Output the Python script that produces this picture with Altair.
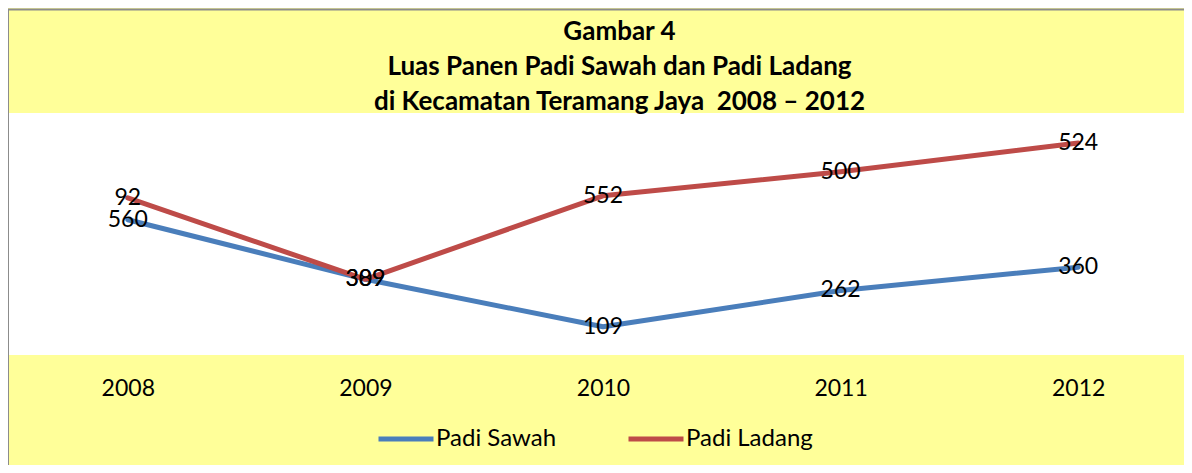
import altair as alt
import pandas as pd

years = ["2008", "2009", "2010", "2011", "2012"]
sawah = [560, 309, 109, 262, 360]
ladang = [92, 0, 552, 500, 524]          # stacked on top of Padi Sawah
sawah_labels = ["560", "309", "109", "262", "360"]
ladang_labels = ["92", "389", "552", "500", "524"]
series = ["Padi Sawah", "Padi Ladang"]
colors = ["#4A7EBB", "#BE4B48"]
title_lines = ["Gambar 4",
               "Luas Panen Padi Sawah dan Padi Ladang",
               "di Kecamatan Teramang Jaya \u00a02008 \u2013 2012"]

rows = []
for i, yr in enumerate(years):
    rows.append(dict(year=yr, series=series[0], value=sawah[i], label=sawah_labels[i], order=0))
    rows.append(dict(year=yr, series=series[1], value=ladang[i], label=ladang_labels[i], order=1))
df = pd.DataFrame(rows)

FONT = "Lato"

x = alt.X("year:O",
          scale=alt.Scale(type="point", range=[0, 1188], padding=0.5),
          axis=alt.Axis(title=None, labelAngle=0, domain=False, ticks=False,
                        grid=False, labelFontSize=23, labelFont=FONT,
                        labelColor="black", labelPadding=33,
                        labelBaseline="middle"))
y = alt.Y("y1:Q", scale=alt.Scale(domain=[-10, 1010], nice=False, zero=False),
          axis=None)

base = alt.Chart(df).transform_stack(
    stack="value", groupby=["year"], as_=["y0", "y1"],
    sort=[alt.SortField("order", order="ascending")]
)

lines = base.mark_line(strokeWidth=5, strokeCap="round", strokeJoin="round").encode(
    x=x, y=y,
    color=alt.Color("series:N",
                    scale=alt.Scale(domain=series, range=colors),
                    legend=alt.Legend(title=None, orient="none", direction="horizontal",
                                      columns=2, legendX=367, legendY=296,
                                      symbolType="stroke", symbolSize=3025,
                                      symbolStrokeWidth=5, labelFontSize=24,
                                      labelFont=FONT, labelColor="black",
                                      labelOffset=0, columnPadding=61,
                                      padding=0)),
    detail="series:N",
)

labels = base.mark_text(fontSize=23, font=FONT, color="black",
                        align="center", baseline="middle").encode(
    x=x, y=y, text="label:N"
)

border = alt.Chart(pd.DataFrame({"a": [0]})).mark_rect(
    fill="transparent", stroke="#8C8C8C", strokeWidth=2
).encode(
    x=alt.value(-1), x2=alt.value(1400), y=alt.value(-103.5), y2=alt.value(700)
)

chart = alt.layer(border, lines, labels).properties(
    width=1175, height=242,
    padding={"left": 1, "top": 105, "right": 0, "bottom": 110},
    autosize=alt.AutoSizeParams(type="none"),
    title=alt.TitleParams(text=title_lines, fontSize=26, font=FONT,
                          fontWeight="bold", lineHeight=35, anchor="middle",
                          frame="group", dx=23, dy=110, offset=4, color="black"),
).configure(
    background="#FFFF99"
).configure_view(
    fill="white", stroke=None
)

chart.save("out.html", embed_options={"renderer": "svg", "actions": False})
